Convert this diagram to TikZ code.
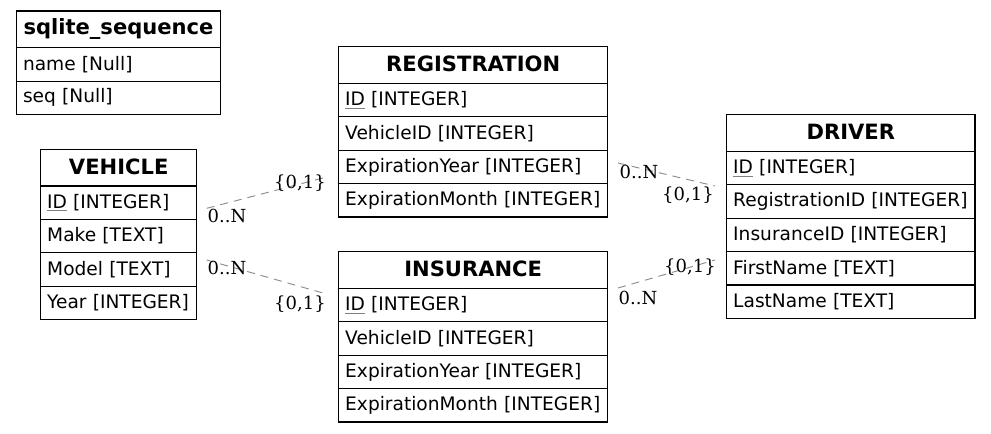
\documentclass[tikz,border=0pt]{standalone}
\usepackage{fontspec}
\setmainfont{DejaVu Sans}
\newfontfamily\lblfont{DejaVu Serif}
\newcommand\erkey[1]{\setbox0\hbox{#1}\rlap{\textcolor{black!50}{\rule[-2.4pt]{\wd0}{0.7pt}}}#1}
\newcommand\hdtext[1]{\raisebox{1.5pt}{#1}}
\begin{document}
\begin{tikzpicture}[x=0.75pt,y=-0.75pt,
  tbl/.style={draw, line width=0.8pt, anchor=north west, outer sep=0pt, inner xsep=4.9pt, inner ysep=0pt, align=left},
  hdr/.style={tbl, text width=#1, minimum height=27.5pt, align=center, font=\fontsize{15.8}{18}\selectfont\bfseries},
  rw/.style={tbl, text width=#1, minimum height=25.05pt, font=\fontsize{13.95}{16}\selectfont},
  rel/.style={draw=black!45, line width=0.7pt, dash pattern=on 6pt off 4.5pt},
  card/.style={font=\lblfont\fontsize{13.5}{16}\selectfont, inner sep=0pt}]
\useasboundingbox (0,0) rectangle (991,433);

% sqlite_sequence
\node[hdr=143.2pt] (sq) at (16.5,11) {\hdtext{sqlite\_sequence}};
\node[rw=143.2pt] (sq1) at (sq.south west) {name [Null]};
\node[rw=143.2pt] (sq2) at (sq1.south west) {seq [Null]};

% VEHICLE
\node[hdr=107.2pt] (veh) at (40.7,149.3) {\hdtext{VEHICLE}};
\node[rw=107.2pt] (veh1) at (veh.south west) {\erkey{ID} [INTEGER]};
\node[rw=107.2pt] (veh2) at (veh1.south west) {Make [TEXT]};
\node[rw=107.2pt] (veh3) at (veh2.south west) {Model [TEXT]};
\node[rw=107.2pt] (veh4) at (veh3.south west) {Year [INTEGER]};

% REGISTRATION
\node[hdr=191.95pt] (reg) at (338.7,46.7) {\hdtext{REGISTRATION}};
\node[rw=191.95pt] (reg1) at (reg.south west) {\erkey{ID} [INTEGER]};
\node[rw=191.95pt] (reg2) at (reg1.south west) {VehicleID [INTEGER]};
\node[rw=191.95pt] (reg3) at (reg2.south west) {ExpirationYear [INTEGER]};
\node[rw=191.95pt] (reg4) at (reg3.south west) {ExpirationMonth [INTEGER]};

% INSURANCE
\node[hdr=191.95pt] (ins) at (338.7,251.7) {\hdtext{INSURANCE}};
\node[rw=191.95pt] (ins1) at (ins.south west) {\erkey{ID} [INTEGER]};
\node[rw=191.95pt] (ins2) at (ins1.south west) {VehicleID [INTEGER]};
\node[rw=191.95pt] (ins3) at (ins2.south west) {ExpirationYear [INTEGER]};
\node[rw=191.95pt] (ins4) at (ins3.south west) {ExpirationMonth [INTEGER]};

% DRIVER
\node[hdr=176.4pt] (drv) at (726.7,114.7) {\hdtext{DRIVER}};
\node[rw=176.4pt] (drv1) at (drv.south west) {\erkey{ID} [INTEGER]};
\node[rw=176.4pt] (drv2) at (drv1.south west) {RegistrationID [INTEGER]};
\node[rw=176.4pt] (drv3) at (drv2.south west) {InsuranceID [INTEGER]};
\node[rw=176.4pt] (drv4) at (drv3.south west) {FirstName [TEXT]};
\node[rw=176.4pt] (drv5) at (drv4.south west) {LastName [TEXT]};

% connector end points
\coordinate (vr1) at (206.7,208.3);
\coordinate (vr2) at (323,178);
\coordinate (vi1) at (206.7,260);
\coordinate (vi2) at (323,293);
\coordinate (rd1) at (618,163);
\coordinate (rd2) at (715,186);
\coordinate (id1) at (618,288);
\coordinate (id2) at (715,260);

\draw[rel] (vr1) -- (vr2);
\draw[rel] (vi1) -- (vi2);
\draw[rel] (rd1) -- (rd2);
\draw[rel] (id1) -- (id2);

% cardinalities
\node[card] (l1) at (300,183) {\{0,1\}};
\node[card] (l2) at (227,216) {0..N};
\node[card] (l3) at (227,268) {0..N};
\node[card] (l4) at (300,304) {\{0,1\}};
\node[card] (l5) at (639,172) {0..N};
\node[card] (l6) at (688,195) {\{0,1\}};
\node[card] (l7) at (690,267) {\{0,1\}};
\node[card] (l8) at (638,298) {0..N};
\end{tikzpicture}
\end{document}
